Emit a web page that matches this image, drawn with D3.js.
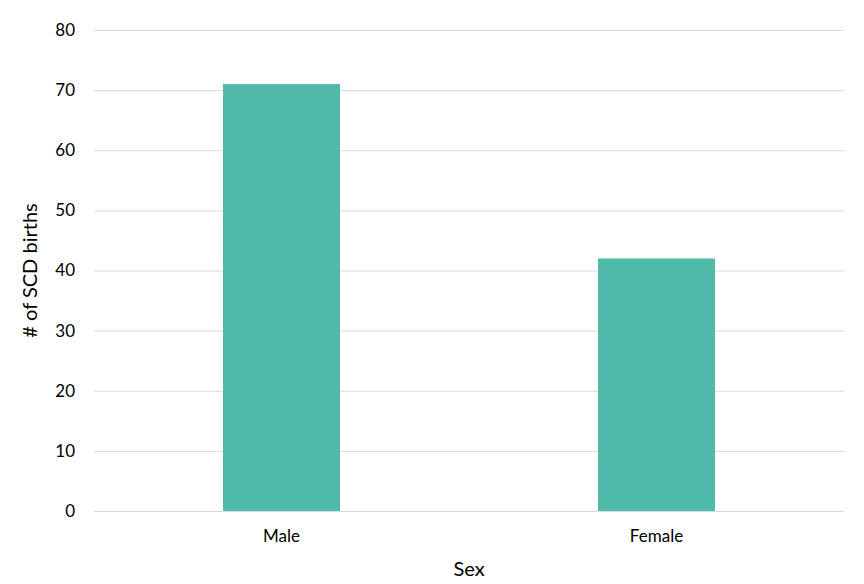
<!DOCTYPE html>
<html><head><meta charset="utf-8">
<script src="https://cdn.jsdelivr.net/npm/d3@7"></script>
<style>body{margin:0;background:#fff;}svg{display:block;font-family:Lato,"Open Sans",sans-serif;}</style>
</head><body>
<svg id="c" width="864" height="584"></svg>
<script>
const categories = ["Male", "Female"];
const values = [71, 42];
const yTicks = [0, 10, 20, 30, 40, 50, 60, 70, 80];
const xTitle = "Sex";
const yTitle = "# of SCD births";

const svg = d3.select("#c");
const m = {left: 94, right: 20, top: 30, bottom: 73};
const W = 864, H = 584;
const x = d3.scaleBand().domain(categories).range([m.left, W - m.right]).paddingInner(0.688).paddingOuter(0.344);
const y = d3.scaleLinear().domain([0, 80]).range([H - m.bottom, m.top]);

const g = svg.append("g");
g.selectAll("line.grid").data(yTicks).join("line")
  .attr("x1", m.left).attr("x2", W - m.right - 0)
  .attr("y1", d => y(d) + 0.5).attr("y2", d => y(d) + 0.5)
  .attr("stroke", "#d9d9d9").attr("stroke-width", 1);

g.selectAll("rect").data(categories).join("rect")
  .attr("x", d => x(d)).attr("width", x.bandwidth())
  .attr("y", (d, i) => y(values[i])).attr("height", (d, i) => y(0) - y(values[i]))
  .attr("fill", "#4FBAA9");

const yAxis = d3.axisLeft(y).tickValues(yTicks).tickSize(0).tickPadding(19);
const ya = svg.append("g").attr("transform", `translate(${m.left},0)`).call(yAxis);
ya.select(".domain").remove();
ya.selectAll("text").attr("font-size", 17).attr("fill", "#000").attr("font-family", "Lato");

const xAxis = d3.axisBottom(x).tickSize(0).tickPadding(19);
const xa = svg.append("g").attr("transform", `translate(0,${y(0)})`).call(xAxis);
xa.select(".domain").remove();
xa.selectAll("text").attr("font-size", 17).attr("fill", "#000").attr("font-family", "Lato");

svg.append("text").attr("x", (m.left + W - m.right) / 2).attr("y", 576)
  .attr("text-anchor", "middle").attr("font-size", 20).text(xTitle);
svg.append("text").attr("transform", `translate(37,${(m.top + H - m.bottom) / 2}) rotate(-90)`)
  .attr("text-anchor", "middle").attr("font-size", 20).text(yTitle);
</script>
</body></html>
